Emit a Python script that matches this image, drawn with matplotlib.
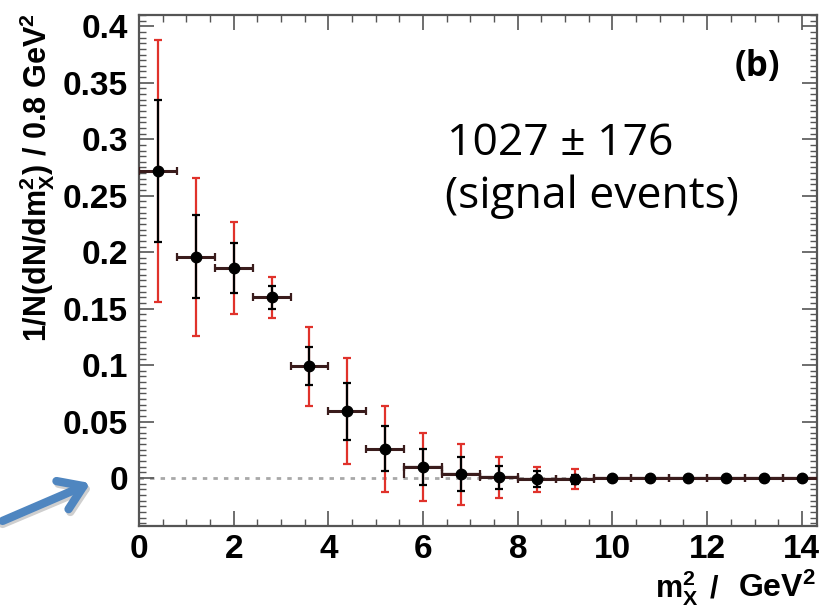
import numpy as np
import matplotlib
matplotlib.use('Agg')
import matplotlib.pyplot as plt
from matplotlib.ticker import MultipleLocator
from matplotlib.patches import FancyArrowPatch

# binned m_X^2 distribution, 0.8 GeV^2 bins
bin_width = 0.8
x_centers = [0.4, 1.2, 2.0, 2.8, 3.6, 4.4, 5.2, 6.0, 6.8,
             7.6, 8.4, 9.2, 10.0, 10.8, 11.6, 12.4, 13.2, 14.0]
y_values = [0.272, 0.196, 0.186, 0.160, 0.099, 0.059, 0.026, 0.010, 0.0035,
            0.0005, -0.001, -0.001, 0.0, 0.0, 0.0, 0.0, 0.0, 0.0]
stat_err = [0.063, 0.037, 0.022, 0.010, 0.017, 0.025, 0.020, 0.016, 0.015,
            0.010, 0.007, 0.004, 0.001, 0.001, 0.001, 0.001, 0.001, 0.001]
total_err = [0.116, 0.070, 0.041, 0.018, 0.035, 0.047, 0.038, 0.030, 0.027,
             0.018, 0.011, 0.009, 0.002, 0.002, 0.002, 0.002, 0.002, 0.002]
step_from = 7  # histogram outline drawn from the 6.0 bin on

ytick_labels = ['0', '0.05', '0.1', '0.15', '0.2', '0.25', '0.3', '0.35', '0.4']

plt.rcParams['font.family'] = ['Liberation Sans', 'DejaVu Sans']
plt.rcParams['font.weight'] = 'bold'
plt.rcParams['mathtext.fontset'] = 'custom'
plt.rcParams['mathtext.rm'] = 'Liberation Sans:bold'
plt.rcParams['mathtext.it'] = 'Liberation Sans:bold'
plt.rcParams['mathtext.bf'] = 'Liberation Sans:bold'
plt.rcParams['mathtext.default'] = 'bf'

W, H = 820, 611
fig = plt.figure(figsize=(W / 100, H / 100), dpi=100)
ax = fig.add_axes([139 / W, 85 / H, (817 - 139) / W, (526 - 15) / H])

x = np.array(x_centers)
y = np.array(y_values)

ax.axhline(0, color='#a8a8a8', lw=2, dashes=(1.6, 2.2), zorder=1)

# total uncertainty (red), then statistical (black)
ax.errorbar(x, y, yerr=total_err, fmt='none', ecolor='#e0322b', elinewidth=1.6,
            capsize=3, capthick=1.6, zorder=2)
edges = np.append(x[step_from:] - bin_width / 2, x[-1] + bin_width / 2)
ax.stairs(y[step_from:], edges, color='#3a1c1c', lw=1.6, zorder=3)
ax.errorbar(x, y, xerr=bin_width / 2, fmt='none', ecolor='#3a1c1c', elinewidth=2.2,
            capsize=3, capthick=1.6, zorder=3)
ax.errorbar(x, y, yerr=stat_err, fmt='o', color='black', ms=7.5, elinewidth=1.6,
            capsize=3, capthick=1.6, zorder=4)

ax.set_xlim(0, 14.32)
ax.set_ylim(-0.0425, 0.41)

ax.xaxis.set_major_locator(MultipleLocator(2))
ax.xaxis.set_minor_locator(MultipleLocator(0.5))
ax.set_yticks([0.05 * i for i in range(len(ytick_labels))])
ax.set_yticklabels(ytick_labels)
ax.yaxis.set_minor_locator(MultipleLocator(0.005))

ax.tick_params(which='both', direction='in', top=True, right=True, color='#555555')
ax.tick_params(which='major', length=11, width=1.2, labelsize=24)
ax.tick_params(which='minor', length=5, width=1.0)
ax.tick_params(axis='y', pad=8)
ax.tick_params(axis='x', pad=6)
for s in ax.spines.values():
    s.set_color('#555555')
    s.set_linewidth(1.6)

fig.text(37 / W, 1 - 13 / H, r'1/N(dN/dm$^{2}_{X}$) / 0.8 GeV$^{2}$', rotation=90,
         ha='center', va='top', fontsize=22, fontweight='bold')

# x-axis title, laid out in pieces with wide spacing
fig.text(655 / W, 1 - 597 / H, r'm$^{2}_{X}$', ha='left', va='baseline',
         fontsize=22, fontweight='bold')
fig.text(714 / W, 1 - 597 / H, '/', ha='center', va='baseline',
         fontsize=22, fontweight='bold')
fig.text(738 / W, 1 - 597 / H, r'GeV$^{2}$', ha='left', va='baseline',
         fontsize=23, fontweight='bold')

fig.text(447 / W, 1 - 155 / H, '1027 ± 176', family=['Open Sans', 'DejaVu Sans'],
         fontweight='normal', fontsize=32, va='baseline', ha='left')
fig.text(445 / W, 1 - 208 / H, '(signal events)', family=['Open Sans', 'DejaVu Sans'],
         fontweight='normal', fontsize=32, va='baseline', ha='left')
fig.text(757 / W, 1 - 67 / H, '(b)', family=['Open Sans', 'DejaVu Sans'],
         fontweight='bold', fontsize=25, va='center', ha='center')

# pointer arrow toward the zero level
style = '->,head_length=0.75,head_width=0.5'
shadow = FancyArrowPatch((0 / W, 1 - 525 / H), (95 / W, 1 - 485 / H),
                         transform=fig.transFigure, arrowstyle=style,
                         mutation_scale=22, lw=6, color='#cfcfcf', zorder=0)
arrow = FancyArrowPatch((0 / W, 1 - 522 / H), (93 / W, 1 - 482 / H),
                        transform=fig.transFigure, arrowstyle=style,
                        mutation_scale=22, lw=6, color='#4f86c0')
fig.patches.extend([shadow, arrow])

fig.savefig('out.png', dpi=100)
